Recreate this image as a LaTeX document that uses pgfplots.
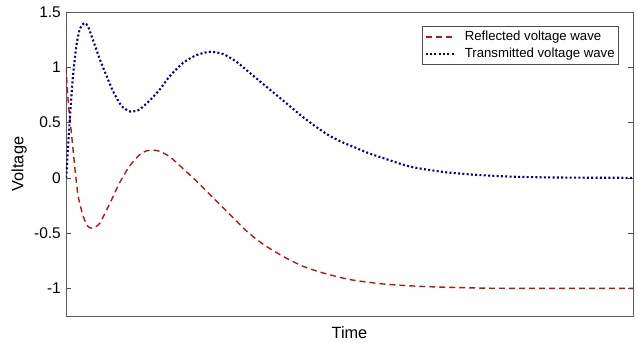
\documentclass[border=0pt]{standalone}
\usepackage{pgfplots}
\pgfplotsset{compat=1.18}
\usepackage{fontspec}
\setmainfont{Liberation Sans}
\definecolor{refl}{RGB}{178,24,24}
\definecolor{trans}{RGB}{0,0,140}
\begin{document}
\begin{tikzpicture}
\begin{axis}[
  scale only axis,
  width=567pt, height=304pt,
  xmin=0, xmax=568, ymin=-1.25, ymax=1.5,
  xtick=\empty,
  ytick={-1,-0.5,0,0.5,1,1.5},
  yticklabels={-1,-0.5,0,0.5,1,1.5},
  tick align=inside,
  major tick length=5pt,
  tick style={black!70, line width=0.6pt},
  axis line style={black!65, line width=0.8pt},
  ticklabel style={font=\fontsize{15.5}{17}\selectfont},
  yticklabel style={inner xsep=0pt, xshift=-5pt},
  xlabel={Time}, ylabel={Voltage},
  label style={font=\fontsize{16.3}{18}\selectfont},
  xlabel style={at={(axis description cs:0.5,0)}, anchor=north, inner sep=0pt, yshift=-10pt},
  ylabel style={at={(axis description cs:-0.0688,0.5)}, anchor=south, inner sep=0pt, rotate=0},
  legend style={at={(axis description cs:0.9753,0.954)}, anchor=north east,
    font=\fontsize{13.2}{15}\selectfont, draw=black!70, line width=0.6pt,
    inner xsep=2pt, inner ysep=2.5pt, row sep=1pt,
    nodes={inner ysep=2.5pt, inner xsep=2pt},
    /tikz/every odd column/.append style={column sep=8pt},
    cells={anchor=west}},
  legend cell align=left,
  legend image code/.code={\draw[#1] (0pt,0pt) -- (28pt,0pt);},
]
\addplot[refl, line width=1.4pt, dash pattern=on 6pt off 4pt, smooth, tension=0.4] coordinates {
(0,1.0) (1,0.85) (2.3,0.68) (4,0.53) (5.7,0.38) (9,0.08) (12.3,-0.17) (17.3,-0.35) (22,-0.44) (26,-0.455) (30,-0.44) (34,-0.41) (44,-0.23) (54,-0.04) (64,0.11) (74,0.21) (81,0.245) (87,0.25) (94,0.24) (104,0.19) (114,0.11) (130.7,-0.03) (147.3,-0.18) (164,-0.33) (180.7,-0.48) (197.3,-0.60) (217.3,-0.71) (237.3,-0.80) (257.3,-0.86) (284,-0.92) (317.3,-0.96) (350.7,-0.98) (380.7,-0.99) (420,-0.998) (460,-1.0) (568,-1.0)
};
\addlegendentry{Reflected voltage wave}
\addplot[trans, line width=2.1pt, dash pattern=on 2pt off 2.3pt, smooth, tension=0.4] coordinates {
(0,0) (1,0.1) (2.5,0.35) (4.5,0.62) (7,0.92) (10.5,1.2) (14,1.35) (18.5,1.40) (22,1.37) (27.3,1.24) (34,1.07) (40.7,0.92) (47.3,0.78) (55.7,0.65) (64,0.60) (70,0.605) (74,0.62) (84,0.70) (94,0.80) (104,0.92) (117.3,1.04) (130.7,1.11) (144,1.14) (157.3,1.12) (170.7,1.05) (184,0.95) (197.3,0.85) (210.7,0.75) (224,0.65) (237.3,0.55) (250.7,0.46) (264,0.38) (277.3,0.32) (290.7,0.27) (304,0.22) (317.3,0.18) (337.3,0.12) (350.7,0.09) (380.7,0.05) (414,0.025) (447.3,0.01) (480.7,0.004) (520,0.001) (568,0)
};
\addlegendentry{Transmitted voltage wave}
\end{axis}
\path ([shift={(-66pt,-27pt)}]current axis.south west) rectangle ([shift={(5pt,12pt)}]current axis.north east);
\end{tikzpicture}
\end{document}
